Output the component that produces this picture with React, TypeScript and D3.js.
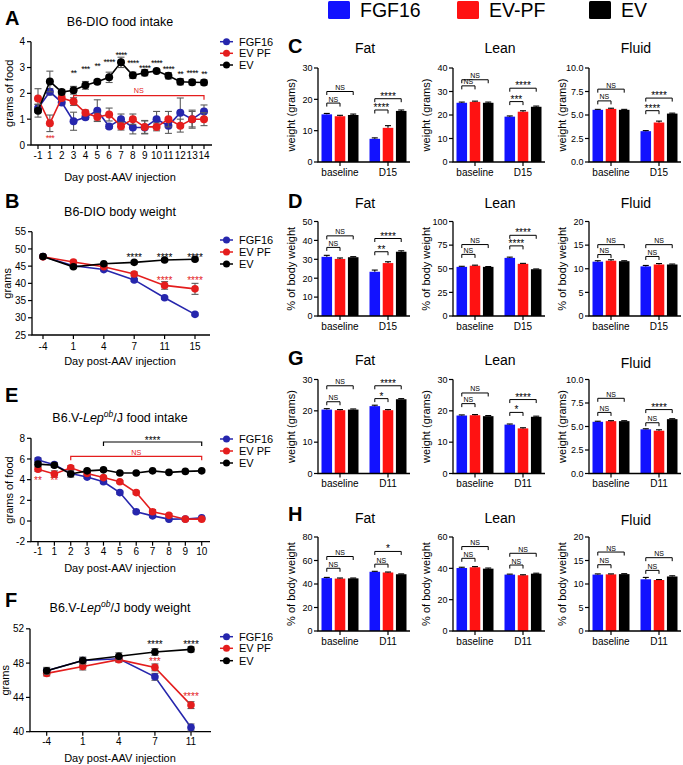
import React from "react";
import * as d3 from "d3";

const FONT = "'Liberation Sans', Arial, Helvetica, sans-serif";

const SERIES_NAMES = ["FGF16", "EV PF", "EV"];
const TOP_LEGEND = ["FGF16", "EV-PF", "EV"];
const LINE_COLORS = ["#2626ad", "#e41d1d", "#000000"];
const BAR_COLORS = ["#1212ff", "#ff1212", "#000000"];
const ERR_COLOR = "#5c5c5c";

// ---------- Panel A: B6-DIO food intake ----------
const aDays = ["-1", "1", "2", "3", "4", "5", "6", "7", "8", "9", "10", "11", "12", "13", "14"];
const aFGF16 = [1.42, 2.06, 1.65, 0.92, 1.07, 1.33, 0.72, 1.0, 0.68, 0.68, 1.0, 0.75, 1.25, 1.0, 1.3];
const aFGF16Err = [0.15, 0.12, 0.1, 0.35, 0.08, 0.42, 0.08, 0.2, 0.25, 0.25, 0.3, 0.3, 0.57, 0.3, 0.25];
const aEVPF = [1.8, 0.84, 1.82, 1.68, 1.25, 1.08, 1.18, 0.73, 1.0, 0.7, 0.7, 1.0, 0.75, 1.0, 1.0];
const aEVPFErr = [0.38, 0.32, 0.1, 0.15, 0.1, 0.15, 0.25, 0.15, 0.2, 0.25, 0.15, 0.3, 0.25, 0.35, 0.25];
const aEV = [1.33, 2.46, 2.05, 2.12, 2.31, 2.45, 2.62, 3.2, 2.7, 2.8, 2.87, 2.68, 2.45, 2.43, 2.42];
const aEVErr = [0.25, 0.4, 0.1, 0.15, 0.15, 0.08, 0.2, 0.2, 0.12, 0.12, 0.06, 0.12, 0.12, 0.1, 0.1];
const aStarDays = ["3", "4", "5", "6", "7", "8", "9", "10", "11", "12", "13", "14"];
const aStarLabels = ["**", "***", "**", "****", "****", "****", "****", "****", "****", "**", "****", "**"];
const aStarLevels = [2.87, 3.03, 3.13, 3.29, 3.58, 3.26, 3.07, 3.27, 3.03, 2.84, 2.87, 2.84];

// ---------- Panel B: B6-DIO body weight ----------
const bDays = ["-4", "1", "4", "7", "11", "15"];
const bFGF16 = [47.8, 45.1, 44.0, 41.0, 35.8, 31.0];
const bFGF16Err = [0.3, 0.3, 0.3, 0.4, 0.4, 0.4];
const bEVPF = [47.7, 46.2, 44.8, 42.7, 39.4, 38.4];
const bEVPFErr = [0.3, 0.5, 0.4, 0.6, 1.1, 1.6];
const bEV = [47.8, 44.8, 45.7, 46.1, 46.8, 47.0];
const bEVErr = [0.3, 0.3, 0.3, 0.4, 0.4, 0.4];

// ---------- Panel E: ob/ob food intake ----------
const eDays = ["-1", "1", "2", "3", "4", "5", "6", "7", "8", "9", "10"];
const eFGF16 = [5.9, 5.45, 4.6, 4.25, 3.8, 2.75, 0.9, 0.5, 0.18, 0.2, 0.3];
const eFGF16Err = [0.2, 0.2, 0.1, 0.1, 0.15, 0.15, 0.1, 0.1, 0.05, 0.05, 0.05];
const eEVPF = [5.0, 4.55, 5.15, 4.6, 4.2, 3.8, 2.75, 0.9, 0.55, 0.18, 0.18];
const eEVPFErr = [0.2, 0.3, 0.2, 0.1, 0.15, 0.1, 0.15, 0.2, 0.15, 0.05, 0.05];
const eEV = [5.5, 5.4, 4.55, 4.85, 4.95, 4.65, 4.65, 4.85, 4.7, 4.8, 4.85];
const eEVErr = [0.2, 0.2, 0.3, 0.15, 0.15, 0.1, 0.1, 0.1, 0.1, 0.1, 0.1];

// ---------- Panel F: ob/ob body weight ----------
const fDays = ["-4", "1", "4", "7", "11"];
const fFGF16 = [47.1, 48.3, 48.5, 46.4, 40.5];
const fFGF16Err = [0.3, 0.3, 0.3, 0.4, 0.4];
const fEVPF = [46.8, 47.6, 48.4, 47.5, 43.1];
const fEVPFErr = [0.3, 0.4, 0.3, 0.4, 0.4];
const fEV = [47.1, 48.3, 48.8, 49.3, 49.6];
const fEVErr = [0.4, 0.4, 0.4, 0.4, 0.3];

// ---------- Body composition bar panels ----------
// values: [group][FGF16, EV-PF, EV]
const cGroups = ["baseline", "D15"];
const cFat = [[15.2, 14.6, 15.0], [7.4, 10.9, 16.3]];
const cFatErr = [[0.3, 0.3, 0.3], [0.3, 0.7, 0.3]];
const cLean = [[25.2, 25.6, 25.2], [19.3, 21.4, 23.5]];
const cLeanErr = [[0.3, 0.3, 0.3], [0.3, 0.4, 0.3]];
const cFluid = [[5.55, 5.65, 5.55], [3.28, 4.2, 5.15]];
const cFluidErr = [[0.05, 0.07, 0.05], [0.06, 0.15, 0.05]];

const dFat = [[31.3, 30.2, 31.1], [23.4, 28.0, 34.0]];
const dFatErr = [[0.8, 0.5, 0.3], [0.9, 0.7, 0.5]];
const dLean = [[52.0, 53.2, 52.0], [61.5, 55.2, 49.5]];
const dLeanErr = [[0.6, 0.6, 0.3], [0.8, 0.5, 0.3]];
const dFluid = [[11.5, 11.7, 11.6], [10.5, 10.9, 10.9]];
const dFluidErr = [[0.2, 0.2, 0.1], [0.2, 0.2, 0.1]];

const gGroups = ["baseline", "D11"];
const gFat = [[20.4, 20.2, 20.4], [21.5, 20.2, 23.7]];
const gFatErr = [[0.3, 0.2, 0.2], [0.3, 0.2, 0.2]];
const gLean = [[18.5, 18.6, 18.3], [15.6, 14.4, 18.1]];
const gLeanErr = [[0.2, 0.2, 0.2], [0.2, 0.2, 0.2]];
const gFluid = [[5.5, 5.57, 5.57], [4.7, 4.55, 5.78]];
const gFluidErr = [[0.06, 0.05, 0.05], [0.06, 0.1, 0.05]];

const hFat = [[45.0, 44.6, 44.8], [50.4, 49.8, 48.3]];
const hFatErr = [[0.6, 0.5, 0.3], [0.4, 0.4, 0.3]];
const hLean = [[40.2, 40.7, 39.8], [36.0, 35.6, 36.6]];
const hLeanErr = [[0.5, 0.4, 0.4], [0.3, 0.3, 0.3]];
const hFluid = [[12.0, 12.05, 12.1], [11.0, 10.85, 11.6]];
const hFluidErr = [[0.15, 0.1, 0.1], [0.4, 0.1, 0.15]];

// significance: [group][small label, small level, big label, big level]
const cFatSig: [string, number, string, number][] = [["NS", 18.8, "NS", 22.5], ["****", 16.6, "****", 20.2]];
const cLeanSig: [string, number, string, number][] = [["NS", 32.4, "NS", 35.0], ["***", 25.7, "****", 31.4]];
const cFluidSig: [string, number, string, number][] = [["NS", 6.5, "NS", 7.75], ["****", 5.46, "****", 6.8]];
const dFatSig: [string, number, string, number][] = [["NS", 36.3, "NS", 42.4], ["**", 34.0, "****", 41.0]];
const dLeanSig: [string, number, string, number][] = [["NS", 65.2, "NS", 75.6], ["****", 74.2, "****", 85.4]];
const dFluidSig: [string, number, string, number][] = [["NS", 13.0, "NS", 15.1], ["NS", 12.6, "NS", 15.1]];
const gFatSig: [string, number, string, number][] = [["NS", 22.9, "NS", 28.0], ["*", 23.9, "****", 28.0]];
const gLeanSig: [string, number, string, number][] = [["NS", 22.3, "NS", 25.7], ["*", 19.5, "****", 23.6]];
const gFluidSig: [string, number, string, number][] = [["NS", 6.5, "NS", 8.0], ["NS", 5.4, "****", 6.8]];
const hFatSig: [string, number, string, number][] = [["NS", 53.4, "NS", 63.4], ["NS", 56.9, "*", 67.7]];
const hLeanSig: [string, number, string, number][] = [["NS", 46.4, "NS", 53.9], ["NS", 42.1, "NS", 49.6]];
const hFluidSig: [string, number, string, number][] = [["NS", 14.1, "NS", 16.8], ["NS", 12.9, "NS", 15.6]];

type Series = { vals: number[]; errs: number[]; color: string };
type Star = { cat: string; level: number; label: string; color: string };
type Bracket = { from: string; to: string; level: number; labelLevel: number; label: string; color: string };

function starText(key: string, x: number, yc: number, label: string, color: string, fs = 10, ls = 0) {
  // asterisk glyph sits high in the em box: place baseline below the visual center
  const isStar = label.includes("*");
  const base = isStar ? yc + fs * 0.57 : yc + fs * 0.36;
  return (
    <text key={key} x={x} y={base} textAnchor="middle" fontSize={isStar ? fs : fs * 0.72} fill={color}
      letterSpacing={isStar ? ls : 0}>
      {label}
    </text>
  );
}

function LinePanel(p: {
  letter: string; letterY: number; title: React.ReactNode; titleY: number;
  cats: string[]; series: Series[]; yDomain: [number, number]; yTicks: number[];
  yPix: [number, number]; xPix: [number, number]; axisX: number; axisEnd: number;
  tickY: number; xlabelY: number; ylabel: string; ylabelX: number; legendY: number[]; r: number;
  stars: Star[]; brackets: Bracket[]; starSize?: number; starSpacing?: number;
}) {
  const y = d3.scaleLinear().domain(p.yDomain).range(p.yPix);
  const x = d3.scalePoint<string>().domain(p.cats).range(p.xPix);
  const line = d3.line<number>().x((_, i) => x(p.cats[i]) as number).y((v) => y(v));
  const bottom = p.yPix[0];
  const top = p.yPix[1];
  const ss = p.starSize ?? 10;
  const sp = p.starSpacing ?? 0;
  return (
    <g>
      <text x={5} y={p.letterY} fontSize={20} fontWeight="bold">{p.letter}</text>
      <text x={120} y={p.titleY} textAnchor="middle" fontSize={12.5}>{p.title}</text>
      {/* axes */}
      <path d={`M${p.axisX},${top}V${bottom}H${p.axisEnd}`} fill="none" stroke="#000" strokeWidth={1.3} />
      {p.yTicks.map((t) => (
        <g key={"yt" + t}>
          <line x1={p.axisX - 4} x2={p.axisX} y1={y(t)} y2={y(t)} stroke="#000" strokeWidth={1.2} />
          <text x={p.axisX - 6} y={y(t) + 3.6} textAnchor="end" fontSize={10}>{t}</text>
        </g>
      ))}
      {p.cats.map((c) => (
        <g key={"xt" + c}>
          <line x1={x(c)} x2={x(c)} y1={bottom} y2={bottom + 4} stroke="#000" strokeWidth={1.2} />
          <text x={x(c)} y={p.tickY + 3.6} textAnchor="middle" fontSize={10}>{c}</text>
        </g>
      ))}
      <text x={120} y={p.xlabelY + 4} textAnchor="middle" fontSize={11}>Day post-AAV injection</text>
      <text transform={`translate(${p.ylabelX},${(top + bottom) / 2}) rotate(-90)`} textAnchor="middle" fontSize={11}>
        {p.ylabel}
      </text>
      {/* brackets */}
      {p.brackets.map((b, i) => {
        const x1 = x(b.from) as number;
        const x2 = x(b.to) as number;
        const yy = y(b.level);
        return (
          <g key={"br" + i}>
            <path d={`M${x1},${yy + 4}V${yy}H${x2}V${yy + 4}`} fill="none" stroke={b.color} strokeWidth={1.2} />
            {starText("bt" + i, (x1 + x2) / 2, y(b.labelLevel), b.label, b.color, 10)}
          </g>
        );
      })}
      {/* series */}
      {p.series.map((s, si) => (
        <g key={"s" + si}>
          <path d={line(s.vals) || ""} fill="none" stroke={s.color} strokeWidth={1.6} />
          {s.vals.map((v, i) => {
            const cx = x(p.cats[i]) as number;
            const y1 = y(v - s.errs[i]);
            const y2 = y(v + s.errs[i]);
            return (
              <g key={"e" + i} stroke={ERR_COLOR} strokeWidth={1.1}>
                <line x1={cx} x2={cx} y1={y1} y2={y2} />
                <line x1={cx - 3.5} x2={cx + 3.5} y1={y1} y2={y1} />
                <line x1={cx - 3.5} x2={cx + 3.5} y1={y2} y2={y2} />
              </g>
            );
          })}
          {s.vals.map((v, i) => (
            <circle key={"m" + i} cx={x(p.cats[i])} cy={y(v)} r={p.r} fill={s.color} />
          ))}
        </g>
      ))}
      {p.stars.map((s, i) => starText("st" + i, x(s.cat) as number, y(s.level), s.label, s.color, ss, sp))}
      {/* legend */}
      {SERIES_NAMES.map((n, i) => (
        <g key={"lg" + n}>
          <line x1={220} x2={233} y1={p.legendY[i]} y2={p.legendY[i]} stroke={LINE_COLORS[i]} strokeWidth={1.5} />
          <circle cx={226.5} cy={p.legendY[i]} r={3.5} fill={LINE_COLORS[i]} />
          <text x={239} y={p.legendY[i] + 4} fontSize={11}>{n}</text>
        </g>
      ))}
    </g>
  );
}

function BarPanel(p: {
  x0: number; top: number; bottom: number; yMax: number; yTicks: number[]; fmt: (n: number) => string;
  groups: string[]; vals: number[][]; errs: number[][]; sig: [string, number, string, number][];
  title: string; titleY: number; ylabel: string;
}) {
  const y = d3.scaleLinear().domain([0, p.yMax]).range([p.bottom, p.top]);
  const gx = d3.scalePoint<string>().domain(p.groups).range([p.x0 + 22, p.x0 + 70]);
  const inner = d3.scaleBand<number>().domain([0, 1, 2]).range([-18.5, 18.5]).paddingInner(0.2);
  const bw = inner.bandwidth();
  return (
    <g>
      <text x={p.x0 + 47} y={p.titleY} textAnchor="middle" fontSize={14}>{p.title}</text>
      {p.groups.map((g, gi) => (
        <g key={g}>
          {p.vals[gi].map((v, si) => {
            const bx = (gx(g) as number) + (inner(si) as number);
            const cx = bx + bw / 2;
            const ye = y(v + p.errs[gi][si]);
            return (
              <g key={si}>
                <rect x={bx} y={y(v)} width={bw} height={p.bottom - y(v)} fill={BAR_COLORS[si]} />
                <line x1={cx} x2={cx} y1={y(v)} y2={ye} stroke="#000" strokeWidth={1.1} />
                <line x1={cx - 3} x2={cx + 3} y1={ye} y2={ye} stroke="#000" strokeWidth={1.1} />
              </g>
            );
          })}
          {(() => {
            const c0 = (gx(g) as number) + (inner(0) as number) + bw / 2;
            const c1 = (gx(g) as number) + (inner(1) as number) + bw / 2;
            const c2 = (gx(g) as number) + (inner(2) as number) + bw / 2;
            const [sl, sv, bl, bv] = p.sig[gi];
            const ys = y(sv);
            const yb = y(bv);
            return (
              <g>
                <path d={`M${c0},${ys + 3.5}V${ys}H${c1}V${ys + 3.5}`} fill="none" stroke="#000" strokeWidth={1} />
                <path d={`M${c0},${yb + 3.5}V${yb}H${c2}V${yb + 3.5}`} fill="none" stroke="#000" strokeWidth={1} />
                {sl.includes("*") ? (
                  <text x={(c0 + c1) / 2} y={ys + 1} textAnchor="middle" fontSize={10}>{sl}</text>
                ) : (
                  <text x={(c0 + c1) / 2} y={ys - 1.5} textAnchor="middle" fontSize={7}>{sl}</text>
                )}
                {bl.includes("*") ? (
                  <text x={(c0 + c2) / 2} y={yb + 1} textAnchor="middle" fontSize={10}>{bl}</text>
                ) : (
                  <text x={(c0 + c2) / 2} y={yb - 1.5} textAnchor="middle" fontSize={7}>{bl}</text>
                )}
              </g>
            );
          })()}
          <line x1={gx(g)} x2={gx(g)} y1={p.bottom} y2={p.bottom + 4} stroke="#000" strokeWidth={1.2} />
          <text x={gx(g)} y={p.bottom + 13.5} textAnchor="middle" fontSize={10}>{g}</text>
        </g>
      ))}
      <path d={`M${p.x0},${p.top}V${p.bottom}H${p.x0 + 92}`} fill="none" stroke="#000" strokeWidth={1.3} />
      {p.yTicks.map((t) => (
        <g key={"t" + t}>
          <line x1={p.x0 - 4} x2={p.x0} y1={y(t)} y2={y(t)} stroke="#000" strokeWidth={1.2} />
          <text x={p.x0 - 5.5} y={y(t) + 3.3} textAnchor="end" fontSize={9}>{p.fmt(t)}</text>
        </g>
      ))}
      <text transform={`translate(${p.x0 - 23},${(p.top + p.bottom) / 2}) rotate(-90)`} textAnchor="middle" fontSize={11}>
        {p.ylabel}
      </text>
    </g>
  );
}

const intFmt = (n: number) => String(n);
const oneFmt = d3.format(".1f");

const X0S = [318, 453, 589];
const TITLES = ["Fat", "Lean", "Fluid"];

export default function App() {
  const mk = (vals: number[], errs: number[], i: number): Series => ({ vals, errs, color: LINE_COLORS[i] });
  const leptitle = (rest: string) => (
    <>
      B6.V-<tspan fontStyle="italic">Lep</tspan>
      <tspan fontStyle="italic" fontSize={8.5} dy={-5}>ob</tspan>
      <tspan dy={5}>{rest}</tspan>
    </>
  );
  const rows = [
    { letter: "C", letterY: 53, titleY: [53, 53, 53], top: 68, bottom: 162, groups: cGroups, ylabel: "weight (grams)",
      panels: [
        { vals: cFat, errs: cFatErr, sig: cFatSig, yMax: 30, ticks: [0, 10, 20, 30], fmt: intFmt },
        { vals: cLean, errs: cLeanErr, sig: cLeanSig, yMax: 40, ticks: [0, 10, 20, 30, 40], fmt: intFmt },
        { vals: cFluid, errs: cFluidErr, sig: cFluidSig, yMax: 10, ticks: [0, 2.5, 5, 7.5, 10], fmt: oneFmt },
      ] },
    { letter: "D", letterY: 208, titleY: [208, 208, 208], top: 221.5, bottom: 316, groups: cGroups, ylabel: "% of body weight",
      panels: [
        { vals: dFat, errs: dFatErr, sig: dFatSig, yMax: 50, ticks: [0, 10, 20, 30, 40, 50], fmt: intFmt },
        { vals: dLean, errs: dLeanErr, sig: dLeanSig, yMax: 100, ticks: [0, 25, 50, 75, 100], fmt: intFmt },
        { vals: dFluid, errs: dFluidErr, sig: dFluidSig, yMax: 20, ticks: [0, 5, 10, 15, 20], fmt: intFmt },
      ] },
    { letter: "G", letterY: 365, titleY: [365, 365, 368], top: 379.5, bottom: 473.5, groups: gGroups, ylabel: "weight (grams)",
      panels: [
        { vals: gFat, errs: gFatErr, sig: gFatSig, yMax: 30, ticks: [0, 10, 20, 30], fmt: intFmt },
        { vals: gLean, errs: gLeanErr, sig: gLeanSig, yMax: 30, ticks: [0, 10, 20, 30], fmt: intFmt },
        { vals: gFluid, errs: gFluidErr, sig: gFluidSig, yMax: 10, ticks: [0, 2.5, 5, 7.5, 10], fmt: oneFmt },
      ] },
    { letter: "H", letterY: 521, titleY: [523, 523, 525], top: 537, bottom: 631, groups: gGroups, ylabel: "% of body weight",
      panels: [
        { vals: hFat, errs: hFatErr, sig: hFatSig, yMax: 80, ticks: [0, 20, 40, 60, 80], fmt: intFmt },
        { vals: hLean, errs: hLeanErr, sig: hLeanSig, yMax: 60, ticks: [0, 20, 40, 60], fmt: intFmt },
        { vals: hFluid, errs: hFluidErr, sig: hFluidSig, yMax: 20, ticks: [0, 5, 10, 15, 20], fmt: intFmt },
      ] },
  ];
  const legendX = [328, 457, 589];
  return (
    <svg width={683} height={765} style={{ position: "absolute", left: 0, top: 0, background: "#fff" }}
      fontFamily={FONT}>
      <rect width={683} height={765} fill="#fff" />
      {/* top legend */}
      {TOP_LEGEND.map((n, i) => (
        <g key={n}>
          <rect x={legendX[i]} y={1} width={22} height={18} rx={1.5} fill={BAR_COLORS[i]} />
          <text x={legendX[i] + 32} y={17} fontSize={19.5}>{n}</text>
        </g>
      ))}
      <LinePanel letter="A" letterY={25} title="B6-DIO food intake" titleY={26}
        cats={aDays} series={[mk(aFGF16, aFGF16Err, 0), mk(aEVPF, aEVPFErr, 1), mk(aEV, aEVErr, 2)]}
        yDomain={[0, 4]} yTicks={[0, 1, 2, 3, 4]} yPix={[145, 41.7]} xPix={[38, 204]} axisX={31} axisEnd={212}
        tickY={155} xlabelY={177} ylabel="grams of food" ylabelX={13} legendY={[41.7, 53.3, 65]} r={4}
        starSize={9} starSpacing={-0.7}
        stars={[
          ...aStarDays.map((d, i) => ({ cat: d, level: aStarLevels[i], label: aStarLabels[i], color: "#000" })),
          { cat: "1", level: 0.35, label: "***", color: LINE_COLORS[1] },
        ]}
        brackets={[{ from: "3", to: "14", level: 1.91, labelLevel: 2.16, label: "NS", color: LINE_COLORS[1] }]} />
      <LinePanel letter="B" letterY={208} title="B6-DIO body weight" titleY={216}
        cats={bDays} series={[mk(bFGF16, bFGF16Err, 0), mk(bEVPF, bEVPFErr, 1), mk(bEV, bEVErr, 2)]}
        yDomain={[25, 55]} yTicks={[25, 30, 35, 40, 45, 50, 55]} yPix={[335, 231.7]} xPix={[43, 195]} axisX={32} axisEnd={210}
        tickY={346} xlabelY={361} ylabel="grams" ylabelX={11} legendY={[240, 252, 264]} r={3.8}
        stars={[
          { cat: "7", level: 48.2, label: "****", color: "#000" },
          { cat: "11", level: 48.2, label: "****", color: "#000" },
          { cat: "15", level: 48.2, label: "****", color: "#000" },
          { cat: "11", level: 41.6, label: "****", color: LINE_COLORS[1] },
          { cat: "15", level: 41.6, label: "****", color: LINE_COLORS[1] },
        ]}
        brackets={[]} />
      <LinePanel letter="E" letterY={402} title={leptitle("/J food intake")} titleY={422}
        cats={eDays} series={[mk(eFGF16, eFGF16Err, 0), mk(eEVPF, eEVPFErr, 1), mk(eEV, eEVErr, 2)]}
        yDomain={[-2, 8]} yTicks={[-2, 0, 2, 4, 6, 8]} yPix={[541.7, 438.3]} xPix={[38, 201.7]} axisX={31} axisEnd={210}
        tickY={551} xlabelY={568} ylabel="grams of food" ylabelX={13} legendY={[439, 451, 463]} r={3.8}
        stars={[
          { cat: "-1", level: 4.1, label: "**", color: LINE_COLORS[1] },
          { cat: "1", level: 4.1, label: "**", color: LINE_COLORS[1] },
        ]}
        brackets={[
          { from: "4", to: "10", level: 7.64, labelLevel: 8.0, label: "****", color: "#000" },
          { from: "2", to: "10", level: 6.26, labelLevel: 6.74, label: "NS", color: LINE_COLORS[1] },
        ]} />
      <LinePanel letter="F" letterY={607} title={leptitle("/J body weight")} titleY={612}
        cats={fDays} series={[mk(fFGF16, fFGF16Err, 0), mk(fEVPF, fEVPFErr, 1), mk(fEV, fEVErr, 2)]}
        yDomain={[40, 52]} yTicks={[40, 44, 48, 52]} yPix={[731.7, 628.8]} xPix={[46.7, 191]} axisX={30} axisEnd={211}
        tickY={741.7} xlabelY={758} ylabel="grams" ylabelX={9} legendY={[636.7, 648.3, 660.7]} r={3.8}
        stars={[
          { cat: "7", level: 50.4, label: "****", color: "#000" },
          { cat: "11", level: 50.4, label: "****", color: "#000" },
          { cat: "7", level: 48.4, label: "***", color: LINE_COLORS[1] },
          { cat: "11", level: 44.4, label: "****", color: LINE_COLORS[1] },
        ]}
        brackets={[]} />
      {rows.map((row) => (
        <g key={row.letter}>
          <text x={288} y={row.letterY} fontSize={20} fontWeight="bold">{row.letter}</text>
          {row.panels.map((pn, i) => (
            <BarPanel key={i} x0={X0S[i]} top={row.top} bottom={row.bottom} yMax={pn.yMax} yTicks={pn.ticks}
              fmt={pn.fmt} groups={row.groups} vals={pn.vals} errs={pn.errs} sig={pn.sig}
              title={TITLES[i]} titleY={row.titleY[i]} ylabel={row.ylabel} />
          ))}
        </g>
      ))}
    </svg>
  );
}
